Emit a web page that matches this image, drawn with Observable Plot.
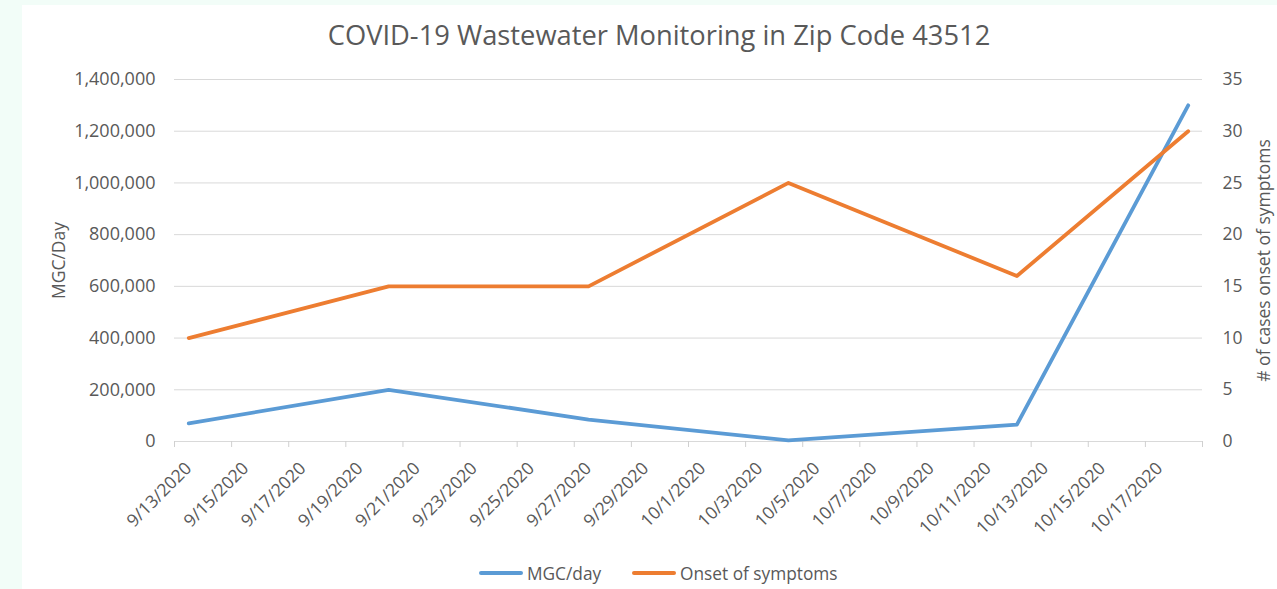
<!DOCTYPE html>
<html>
<head>
<meta charset="utf-8">
<script src="https://cdn.jsdelivr.net/npm/d3@7"></script>
<script src="https://cdn.jsdelivr.net/npm/@observablehq/plot@0.6"></script>
<style>
  html, body { margin: 0; padding: 0; }
  body { width: 1277px; height: 589px; position: relative; overflow: hidden; background: #f2fdf8; font-family: "Open Sans", sans-serif; }
  #panel { position: absolute; left: 22px; top: 5px; width: 1255px; height: 584px; background: #ffffff; }
  #title { position: absolute; left: 0; top: 21px; width: 1318px; text-align: center; font-size: 27.3px; line-height: 28px; color: #595959; white-space: nowrap; }
  #chart { position: absolute; left: 0; top: 60px; }
  .legend-item { position: absolute; top: 562px; display: flex; align-items: center; font-size: 17.3px; color: #595959; height: 22px; white-space: nowrap; }
  .swatch { width: 44px; height: 4px; margin-right: 4px; border-radius: 2px; }
</style>
</head>
<body>
<div id="panel"></div>
<div id="title">COVID-19 Wastewater Monitoring in Zip Code 43512</div>
<div id="chart"></div>
<div class="legend-item" id="leg1" style="left:479px"><span class="swatch" style="background:#5B9BD5"></span><span>MGC/day</span></div>
<div class="legend-item" id="leg2" style="left:632px"><span class="swatch" style="background:#ED7D31"></span><span>Onset of symptoms</span></div>
<script>
// ---- data ----
const sampleDates = ["2020-09-13", "2020-09-20", "2020-09-27", "2020-10-04", "2020-10-12", "2020-10-18"];
const mgcPerDay = [70000, 200000, 85000, 4000, 65000, 1300000];
const onsetOfSymptoms = [10, 15, 15, 25, 16, 30];
const xTickDates = ["2020-09-13", "2020-09-15", "2020-09-17", "2020-09-19", "2020-09-21", "2020-09-23",
  "2020-09-25", "2020-09-27", "2020-09-29", "2020-10-01", "2020-10-03", "2020-10-05", "2020-10-07",
  "2020-10-09", "2020-10-11", "2020-10-13", "2020-10-15", "2020-10-17"];
const leftTicks = [0, 200000, 400000, 600000, 800000, 1000000, 1200000, 1400000];
const rightTicks = [0, 5, 10, 15, 20, 25, 30, 35];
const leftTitle = "MGC/Day";
const rightTitle = "# of cases onset of symptoms";

// ---- build ----
const HALF_DAY = 12 * 3600 * 1000;
const DAY = 2 * HALF_DAY;
const leftMax = leftTicks[leftTicks.length - 1];
const rightMax = rightTicks[rightTicks.length - 1];
const ratio = leftMax / rightMax;

const parsed = sampleDates.map(s => new Date(s));
const mgcData = parsed.map((d, i) => ({date: d, value: mgcPerDay[i]}));
const onsetData = parsed.map((d, i) => ({date: d, value: onsetOfSymptoms[i] * ratio}));

const x0 = new Date(+parsed[0] - HALF_DAY);
const x1 = new Date(+parsed[parsed.length - 1] + HALF_DAY);
const labelDates = xTickDates.map(s => new Date(s));
const boundaryTicks = [];
for (let t = +x0; t <= +x1 + 1; t += 2 * DAY) boundaryTicks.push(new Date(t));
if (+boundaryTicks[boundaryTicks.length - 1] !== +x1) boundaryTicks.push(x1);

const fmtDate = d => `${d.getUTCMonth() + 1}/${d.getUTCDate()}/${d.getUTCFullYear()}`;
const gray = "#595959";
const fs = 17.5;

const plot = Plot.plot({
  width: 1277,
  height: 490,
  marginTop: 19,
  marginBottom: 109,
  marginLeft: 174,
  marginRight: 75,
  style: {fontFamily: "Open Sans, sans-serif", fontSize: fs + "px", color: gray, background: "transparent", overflow: "visible"},
  x: {type: "utc", domain: [x0, x1]},
  y: {domain: [0, leftMax]},
  marks: [
    Plot.gridY(leftTicks, {stroke: "#d9d9d9", strokeOpacity: 1, strokeWidth: 1}),
    Plot.axisX(boundaryTicks, {tickSize: 6, tickFormat: () => "", stroke: "#d0d0d0", label: null}),
    Plot.axisX(labelDates, {tickSize: 0, tickPadding: 19, dx: -5, rotate: -45, textAnchor: "end", tickFormat: fmtDate, fill: gray, fontSize: fs, label: null}),
    Plot.axisY(leftTicks, {anchor: "left", tickSize: 0, tickPadding: 19, tickFormat: d3.format(","), fill: gray, fontSize: 18, label: null}),
    Plot.axisY(rightTicks.map(v => v * ratio), {anchor: "right", tickSize: 0, tickPadding: 20, tickFormat: v => String(Math.round(v / ratio)), fill: gray, fontSize: fs, label: null}),
    Plot.text([leftTitle], {frameAnchor: "left", dx: -115, rotate: -90, textAnchor: "middle", fill: gray, fontSize: fs}),
    Plot.text([rightTitle], {frameAnchor: "right", dx: 62, rotate: -90, textAnchor: "middle", fill: gray, fontSize: fs}),
    Plot.line(mgcData, {x: "date", y: "value", stroke: "#5B9BD5", strokeWidth: 3.8, strokeLinejoin: "round", strokeLinecap: "round"}),
    Plot.line(onsetData, {x: "date", y: "value", stroke: "#ED7D31", strokeWidth: 3.8, strokeLinejoin: "round", strokeLinecap: "round"})
  ]
});
document.getElementById("chart").appendChild(plot);
</script>
</body>
</html>
